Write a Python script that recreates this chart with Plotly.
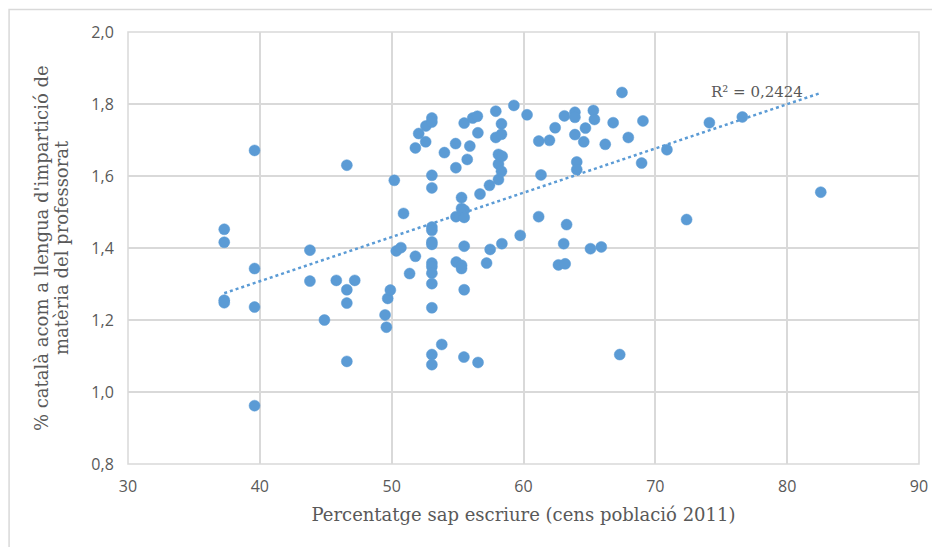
import numpy as np
import plotly.graph_objects as go

# percentatge sap escriure (cens 2011) vs % catala llengua d'imparticio
pct_escriure = [
    37.3, 37.3, 37.3, 37.3, 39.6, 39.6, 39.6, 39.6, 43.8, 43.8,
    44.9, 45.8, 46.6, 46.6, 46.6, 46.6, 47.2, 49.5, 49.6, 49.7,
    49.9, 50.2, 50.35, 50.7, 50.9, 51.36, 51.8, 51.8, 52.05, 52.58,
    52.6, 53.05, 53.05, 53.05, 53.05, 53.05, 53.05, 53.05, 53.05, 53.05,
    53.05, 53.05, 53.05, 53.05, 53.05, 53.05, 53.8, 54.0, 54.85, 54.87,
    54.88, 54.9, 55.3, 55.3, 55.3, 55.3, 55.5, 55.5, 55.5, 55.5,
    55.5, 55.48, 55.73, 55.93, 56.15, 56.5, 56.54, 56.55, 56.7, 57.2,
    57.42, 57.47, 57.9, 57.9, 58.1, 58.1, 58.1, 58.33, 58.33, 58.38,
    58.33, 58.36, 59.27, 59.75, 60.27, 61.15, 61.16, 61.33, 61.97, 62.4,
    62.65, 63.05, 63.1, 63.16, 63.27, 63.9, 63.9, 63.9, 64.04, 64.04,
    64.57, 64.7, 65.08, 65.3, 65.38, 65.9, 66.2, 66.8, 67.3, 67.47,
    67.95, 68.96, 69.06, 70.88, 72.37, 74.1, 76.6, 82.55,
]
pct_catala = [
    1.452, 1.416, 1.255, 1.248, 1.671, 1.343, 1.236, 0.962, 1.394, 1.308,
    1.200, 1.310, 1.630, 1.284, 1.247, 1.085, 1.310, 1.214, 1.180, 1.260,
    1.283, 1.588, 1.392, 1.401, 1.496, 1.329, 1.377, 1.678, 1.718, 1.695,
    1.739, 1.761, 1.750, 1.602, 1.567, 1.458, 1.449, 1.417, 1.410, 1.358,
    1.348, 1.330, 1.301, 1.234, 1.104, 1.076, 1.132, 1.665, 1.690, 1.623,
    1.487, 1.361, 1.540, 1.510, 1.352, 1.343, 1.747, 1.505, 1.485, 1.405,
    1.284, 1.097, 1.646, 1.683, 1.761, 1.766, 1.720, 1.082, 1.550, 1.358,
    1.574, 1.396, 1.780, 1.707, 1.660, 1.633, 1.590, 1.745, 1.716, 1.655,
    1.613, 1.412, 1.796, 1.435, 1.770, 1.487, 1.697, 1.603, 1.699, 1.734,
    1.353, 1.412, 1.767, 1.356, 1.465, 1.777, 1.763, 1.715, 1.639, 1.618,
    1.695, 1.733, 1.398, 1.782, 1.757, 1.403, 1.688, 1.748, 1.104, 1.832,
    1.707, 1.636, 1.753, 1.673, 1.479, 1.748, 1.764, 1.555,
]

x_ticks = [30, 40, 50, 60, 70, 80, 90]
y_ticks = [0.8, 1.0, 1.2, 1.4, 1.6, 1.8, 2.0]
r2_label = 'R² = 0,2424'
y_title_lines = ["% català acom a llengua d'impartició de", "matèria del professorat"]

blue = '#5B9BD5'
grey_text = '#595959'
grid = '#D9D9D9'

# page body has an 8px margin, so the figure is offset by 8px in the screenshot
W, H = 940, 547
L, T = 120, 24
pw, ph = 791.5, 432
R = W - L - pw
B = H - T - ph

# linear trendline
slope, icpt = np.polyfit(pct_escriure, pct_catala, 1)
tx = np.array([min(pct_escriure), max(pct_escriure)])
ty = icpt + slope * tx

fig = go.Figure()

fig.add_trace(go.Scatter(
    x=pct_escriure, y=pct_catala,
    mode='markers',
    marker=dict(size=11, color=blue, line=dict(width=0.5, color=blue)),
    showlegend=False, hoverinfo='skip'
))

fig.add_trace(go.Scatter(
    x=tx, y=ty,
    mode='lines',
    line=dict(color=blue, width=2.5, dash='dot'),
    showlegend=False, hoverinfo='skip'
))

# y title as two rotated annotations (tighter line spacing than a <br> title)
annos = []
for i, txt in enumerate(y_title_lines):
    annos.append(dict(
        x=(33 + 20 * i - L) / pw, y=1 - (240 - T) / ph,
        xref='paper', yref='paper', xanchor='center', yanchor='middle',
        text=txt, textangle=-90, showarrow=False,
        font=dict(family='DejaVu Serif', size=18, color=grey_text)))

annos.append(dict(
    x=(749 - L) / pw, y=1 - (84 - T) / ph,
    xref='paper', yref='paper', xanchor='center', yanchor='middle',
    text=r2_label, showarrow=False,
    font=dict(family='DejaVu Serif', size=15, color=grey_text)))

fig.update_layout(
    width=W, height=H,
    margin=dict(l=L, r=R, t=T, b=B),
    plot_bgcolor='white',
    paper_bgcolor='white',
    separators=', ',
    font=dict(family='Open Sans', color=grey_text, size=15),
    xaxis=dict(
        range=[30, 90], tickvals=x_ticks,
        showgrid=True, gridcolor=grid, gridwidth=1.5,
        zeroline=False, showline=False,
        ticks='outside', ticklen=8, tickcolor='rgba(0,0,0,0)',
        tickfont=dict(size=16, family='Open Sans', color=grey_text),
        title=dict(text='Percentatge sap escriure (cens població 2011)',
                   font=dict(family='DejaVu Serif', size=18, color=grey_text),
                   standoff=12),
    ),
    yaxis=dict(
        range=[0.8, 2.0], tickvals=y_ticks, tickformat='.1f',
        showgrid=True, gridcolor=grid, gridwidth=1.5,
        zeroline=False, showline=False,
        ticks='outside', ticklen=10, tickcolor='rgba(0,0,0,0)',
        tickfont=dict(size=16, family='Open Sans', color=grey_text),
    ),
    shapes=[
        # plot area frame
        dict(type='rect', xref='paper', yref='paper', x0=0, x1=1, y0=0, y1=1,
             line=dict(color=grid, width=1.5), layer='below'),
        # outer chart border (left and top edges)
        dict(type='rect', xref='paper', yref='paper',
             x0=(1 - L) / pw, x1=(W + 10 - L) / pw,
             y0=-(H + 10 - T - ph) / ph, y1=(ph + T - 1.5) / ph,
             line=dict(color=grid, width=1.5)),
    ],
    annotations=annos,
)

fig.write_html("out.html")
